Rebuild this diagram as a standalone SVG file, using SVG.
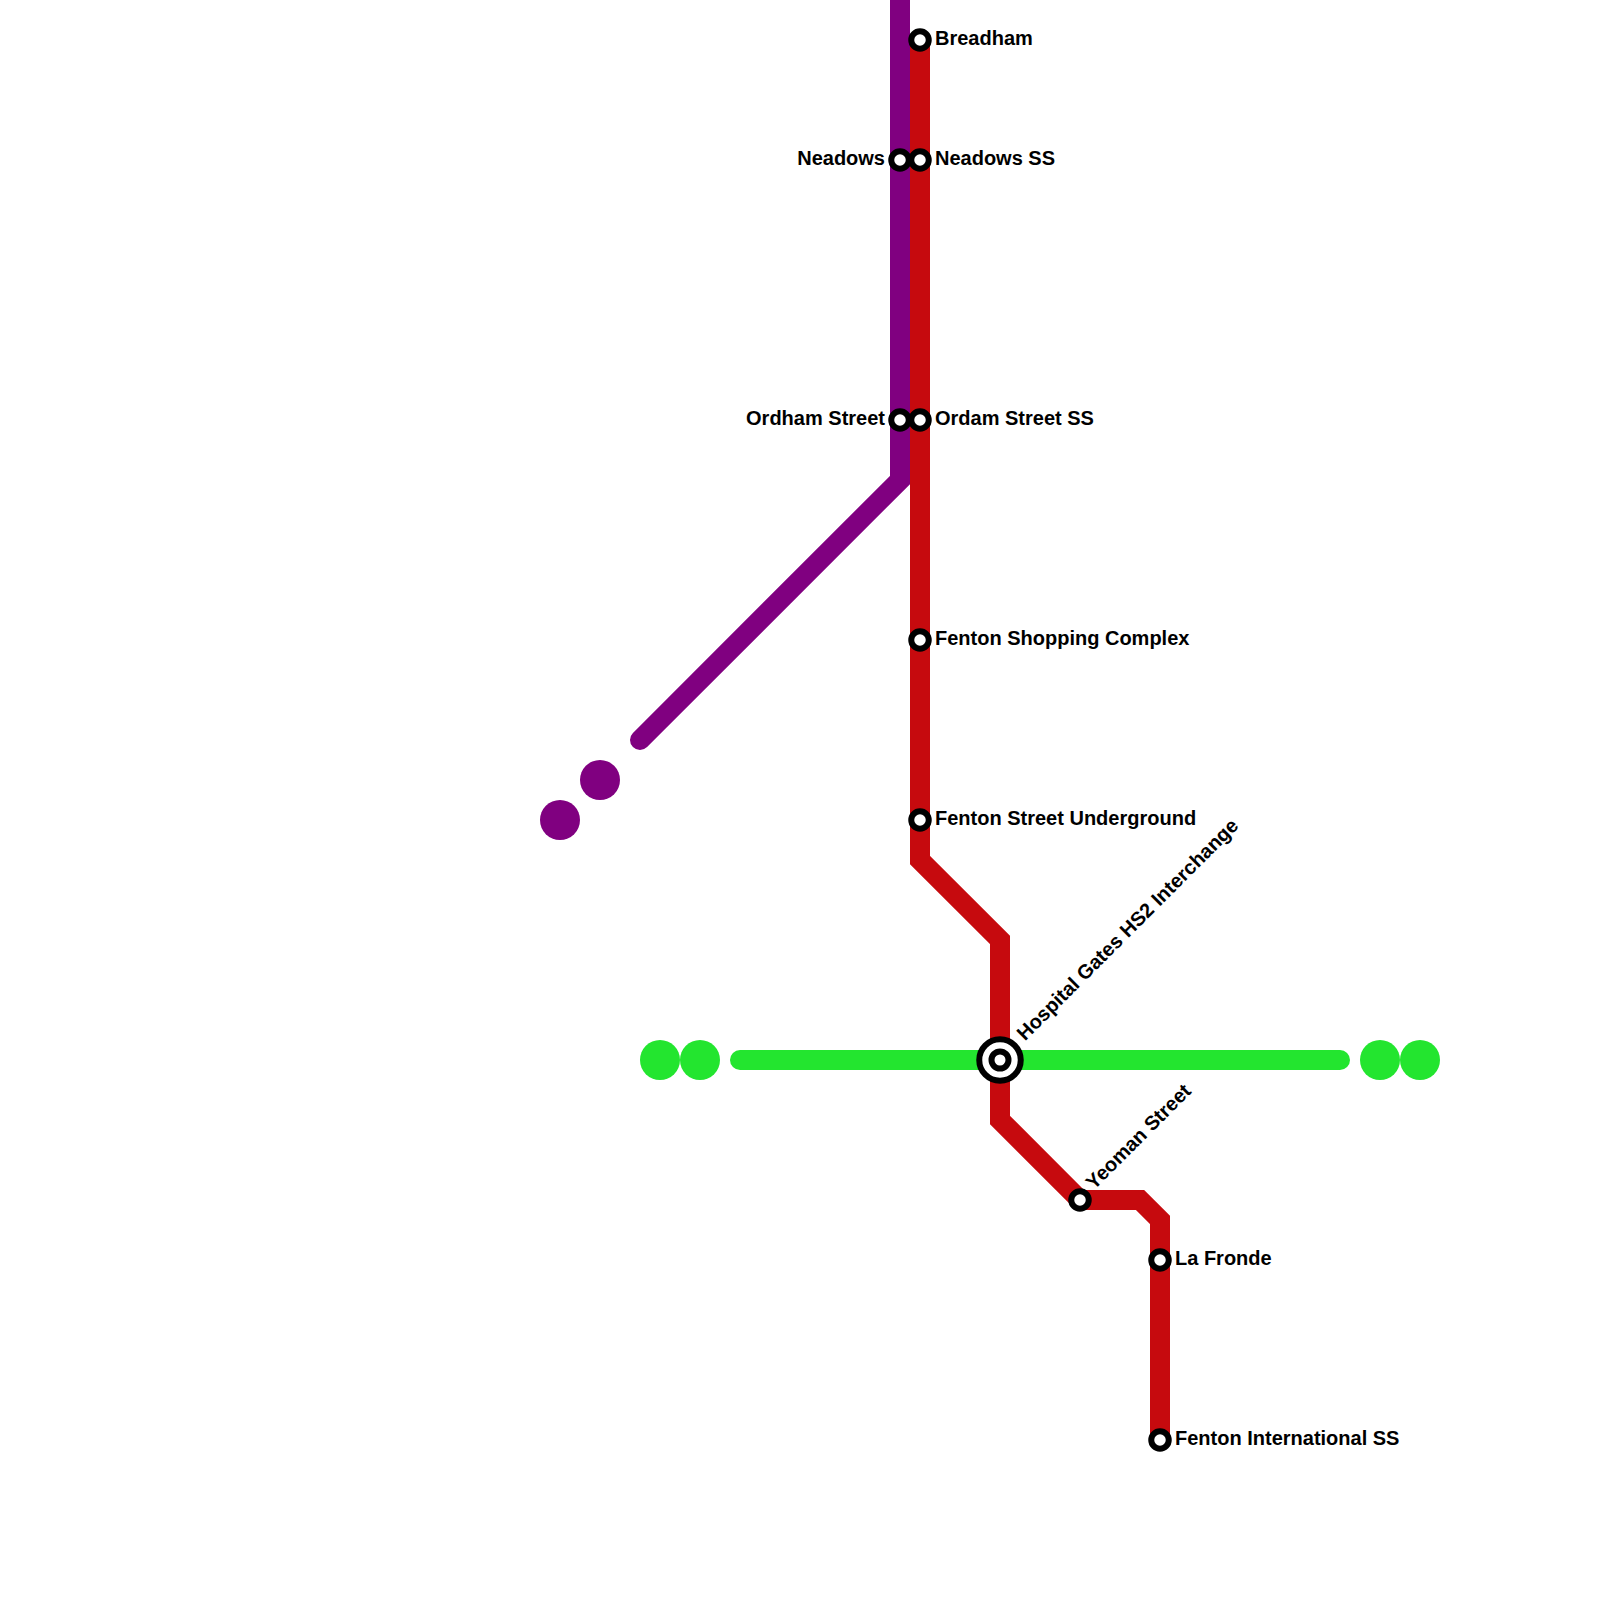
<svg xmlns="http://www.w3.org/2000/svg" width="1600" height="1600" viewBox="0 0 1600 1600">
<style>
.line{fill:none;stroke-width:20;stroke-linecap:round;stroke-linejoin:miter}
.st{fill:#fff;stroke:#000;stroke-width:6}
.t{font-family:"Liberation Sans",Arial,sans-serif;font-weight:700;font-size:20px;fill:#000}
.e{text-anchor:end}
.p{fill:#800080}.g{fill:#23e52f}
</style>
<rect width="1600" height="1600" fill="#fff"/>
<g id="connectors">
<path class="line" stroke="#800080" d="M900 -20V480L640 740"/>
<path class="line" stroke="#23e52f" d="M740 1060H1340"/>
<path class="line" stroke="#c60a0e" style="stroke-linecap:butt" d="M920 40V860L1000 940V1120L1080 1200H1140L1160 1220V1440"/>
</g>
<g id="purple-terminus"><circle class="p" cx="600" cy="780" r="20"/><circle class="p" cx="560" cy="820" r="20"/></g>
<g id="green-terminus-west"><circle class="g" cx="660" cy="1060" r="20"/><circle class="g" cx="700" cy="1060" r="20"/></g>
<g id="green-terminus-east"><circle class="g" cx="1380" cy="1060" r="20"/><circle class="g" cx="1420" cy="1060" r="20"/></g>
<g id="breadham"><circle class="st" cx="920" cy="40" r="8.75"/><text class="t" x="935" y="45">Breadham</text></g>
<g id="neadows"><circle class="st" cx="900" cy="160" r="8.75"/><text class="t e" x="885" y="165">Neadows</text></g>
<g id="neadows-ss"><circle class="st" cx="920" cy="160" r="8.75"/><text class="t" x="935" y="165">Neadows SS</text></g>
<g id="ordham-street"><circle class="st" cx="900" cy="420" r="8.75"/><text class="t e" x="885" y="425">Ordham Street</text></g>
<g id="ordam-street-ss"><circle class="st" cx="920" cy="420" r="8.75"/><text class="t" x="935" y="425">Ordam Street SS</text></g>
<g id="fenton-shopping"><circle class="st" cx="920" cy="640" r="8.75"/><text class="t" x="935" y="645">Fenton Shopping Complex</text></g>
<g id="fenton-street"><circle class="st" cx="920" cy="820" r="8.75"/><text class="t" x="935" y="825">Fenton Street Underground</text></g>
<g id="hospital-gates"><circle cx="1000" cy="1060" r="20.75" fill="#fff" stroke="#000" stroke-width="6"/><circle cx="1000" cy="1060" r="8.5" fill="#fff" stroke="#000" stroke-width="6"/><text class="t" transform="translate(1025 1041.5) rotate(-45)">Hospital Gates HS2 Interchange</text></g>
<g id="yeoman-street"><circle class="st" cx="1080" cy="1200" r="8.75"/><text class="t" transform="translate(1094 1190.5) rotate(-45)">Yeoman Street</text></g>
<g id="la-fronde"><circle class="st" cx="1160" cy="1260" r="8.75"/><text class="t" x="1175" y="1265">La Fronde</text></g>
<g id="fenton-international"><circle class="st" cx="1160" cy="1440" r="8.75"/><text class="t" x="1175" y="1445">Fenton International SS</text></g>
</svg>
